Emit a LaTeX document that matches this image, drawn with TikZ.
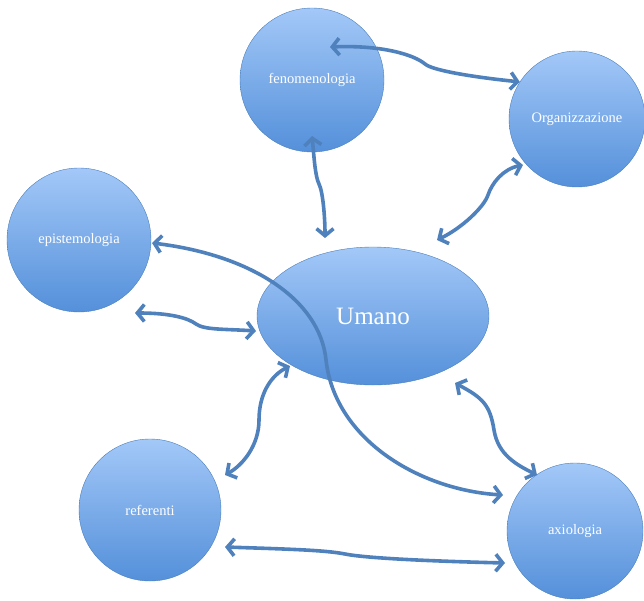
\documentclass[tikz,border=0pt]{standalone}
\usepackage{fontspec}
\setmainfont{Liberation Serif}
\usepackage{tikz}
\usetikzlibrary{arrows.meta,positioning}
\definecolor{ballTop}{HTML}{A3C8F8}
\definecolor{ballBot}{HTML}{5490DA}
\definecolor{ballLine}{HTML}{4A7EBB}
\definecolor{arrowBlue}{HTML}{4F81BD}
\tikzset{ball/.style={circle, draw=ballLine, thin, top color=ballTop, bottom color=ballBot, minimum size=144pt, inner sep=0pt, text=white, font=\fontsize{14.5}{16}\selectfont},
% every topic is a shaded blue ball with white text
egg/.style={ellipse, draw=ballLine, thin, top color=ballTop, bottom color=ballBot, minimum width=232pt, minimum height=138pt, inner sep=0pt, text=white, font=\fontsize{25}{28}\selectfont},
% the ellipse in the middle holds the bigger label
link/.style={draw=arrowBlue, line width=3.6pt, {Straight Barb[length=7pt,width=17pt]}-{Straight Barb[length=7pt,width=17pt]}}   % the wavy two-way arrows
}
\usetikzlibrary{shapes.geometric}
\begin{document}
\begin{tikzpicture}[x=1pt,y=-1pt]
    \useasboundingbox (0,0) rectangle (644,601);
    \node[ball] (f) at (312,80) {fenomenologia};
    \node[ball,minimum size=136pt] (o) at (577,119) {Organizzazione};
    \node[ball] (e) at (79,240) {epistemologia};
    \node[egg] (u) at (373,316) {Umano};
    \node[ball,minimum size=142pt] (r) at (150,510) {referenti};
    \node[ball,minimum size=136pt] (x) at (575,531) {axiologia};
    \draw[link] ([shift={(18,-33)}]f.center) .. controls +(50,-2) and +(-12,-10) .. (425,64) .. controls +(8,7) and +(-40,-4) .. (o.147);
    \draw[link] ([shift={(0,56)}]f.center) .. controls +(2,20) and +(-4,-8) .. (319,184) .. controls +(4,8) and +(0,-20) .. ([shift={(-48,-78)}]u.center);
    \draw[link] ([shift={(-54,46)}]o.center) .. controls +(-20,4) and +(4,-12) .. (488,195) .. controls +(-4,12) and +(25,-12) .. ([shift={(64,-76)}]u.center);
    \draw[link] ([shift={(73,3)}]e.center) .. controls +(100,12) and +(-6,-60) .. (326,360) .. controls +(9,80) and +(-83,-5) .. ([shift={(-72,-36)}]x.center);
    \draw[link] ([shift={(56,73)}]e.center) .. controls +(35,0) and +(-8,-6) .. (196,324) .. controls +(8,6) and +(-30,-2) .. ([shift={(-117,15)}]u.center);
    \draw[link] ([shift={(-83,50)}]u.center) .. controls +(-20,10) and +(0,-25) .. (259,420) .. controls +(0,25) and +(18,-10) .. ([shift={(75,-35)}]r.center);
    \draw[link] ([shift={(82,67)}]u.center) .. controls +(28,15) and +(-4,-25) .. (494,430) .. controls +(4,25) and +(-20,-10) .. ([shift={(-38,-56)}]x.center);
    \draw[link] ([shift={(75,37)}]r.center) .. controls +(60,2) and +(-20,-4) .. (345,554) .. controls +(20,4) and +(-80,-2) .. ([shift={(-70,32)}]x.center);
  \end{tikzpicture}
\end{document}
